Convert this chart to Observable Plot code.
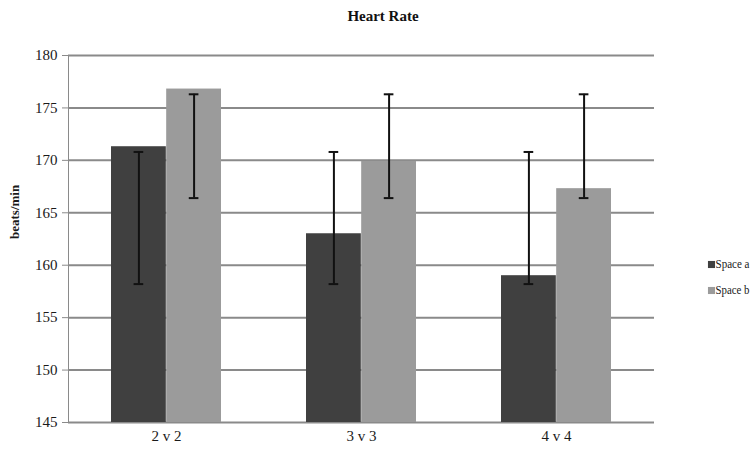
<!DOCTYPE html>
<html>
<head>
<meta charset="utf-8">
<script src="https://cdn.jsdelivr.net/npm/d3@7"></script>
<script src="https://cdn.jsdelivr.net/npm/@observablehq/plot@0.6"></script>
<style>
  body { margin: 0; background: #fff; }
  #wrap { position: relative; width: 753px; height: 454px; font-family: "Liberation Serif", "DejaVu Serif", serif; overflow: hidden; }
  #title { position: absolute; top: 8px; left: 0; width: 766px; text-align: center; font-weight: bold; font-size: 15px; color: #111; }
  #chart svg text { fill: #1a1a1a; font-family: "Liberation Serif", serif; }
</style>
</head>
<body>
<div id="wrap">
  <div id="title">Heart Rate</div>
  <div id="chart"></div>
</div>
<script>
const categories = ["2 v 2", "3 v 3", "4 v 4"];
const seriesNames = ["Space a", "Space b"];
const spaceA = [171.3, 163.0, 159.0];
const spaceB = [176.8, 169.9, 167.3];
const errA_low = [158.2, 158.2, 158.2];
const errA_high = [170.8, 170.8, 170.8];
const errB_low = [166.4, 166.4, 166.4];
const errB_high = [176.3, 176.3, 176.3];
const yTicks = [145, 150, 155, 160, 165, 170, 175, 180];
const colors = ["#404040", "#9b9b9b"];

const A = categories.map((c, i) => ({cat: c, value: spaceA[i], lo: errA_low[i], hi: errA_high[i]}));
const B = categories.map((c, i) => ({cat: c, value: spaceB[i], lo: errB_low[i], hi: errB_high[i]}));
const leg = seriesNames.map((n, i) => ({name: n, color: colors[i], row: i}));

const width = 753, height = 454, mL = 68, mR = 99;
const pIn = 0.435, pOut = 0.2175;
const step = (width - mL - mR) / (categories.length - pIn + 2 * pOut);
const bw = step * (1 - pIn);
const half = bw / 2, q = bw / 4, cap = 5;

const legendMarks = leg.flatMap(d => [
  Plot.dot([d], {frameAnchor: "right", dx: 57, dy: 25.5 + 26 * d.row, symbol: "square", r: 4, fill: d.color, stroke: "none"}),
  Plot.text([d], {frameAnchor: "right", dx: 61, dy: 25.5 + 26 * d.row, text: "name", textAnchor: "start", fontSize: 12, fill: "#111"})
]);

const chart = Plot.plot({
  width, height,
  marginLeft: mL, marginRight: mR, marginTop: 55, marginBottom: 32,
  style: {fontFamily: "Liberation Serif, serif", fontSize: "15px", color: "#8a8a8a", background: "#fff"},
  x: {domain: categories, paddingInner: pIn, paddingOuter: pOut, label: null, tickSize: 0, tickPadding: 8},
  y: {domain: [145, 180], ticks: yTicks, label: null, tickSize: 6, tickPadding: 5, line: true},
  marks: [
    Plot.ruleY(yTicks, {stroke: "#8a8a8a", strokeWidth: 2}),
    Plot.barY(A, {x: "cat", y1: () => 145, y2: "value", fill: colors[0], insetRight: half}),
    Plot.barY(B, {x: "cat", y1: () => 145, y2: "value", fill: colors[1], insetLeft: half}),
    Plot.ruleX(A, {x: "cat", y1: "lo", y2: "hi", dx: -q, stroke: "#111", strokeWidth: 2}),
    Plot.ruleX(B, {x: "cat", y1: "lo", y2: "hi", dx: q, stroke: "#111", strokeWidth: 2}),
    Plot.tickY(A, {x: "cat", y: "lo", insetLeft: half - q - cap, insetRight: half + q - cap, stroke: "#111", strokeWidth: 2}),
    Plot.tickY(A, {x: "cat", y: "hi", insetLeft: half - q - cap, insetRight: half + q - cap, stroke: "#111", strokeWidth: 2}),
    Plot.tickY(B, {x: "cat", y: "lo", insetLeft: half + q - cap, insetRight: half - q - cap, stroke: "#111", strokeWidth: 2}),
    Plot.tickY(B, {x: "cat", y: "hi", insetLeft: half + q - cap, insetRight: half - q - cap, stroke: "#111", strokeWidth: 2}),
    Plot.text(["beats/min"], {frameAnchor: "left", dx: -54, rotate: -90, fontWeight: "bold", fontSize: 13, fill: "#111"}),
    ...legendMarks
  ]
});
document.getElementById("chart").appendChild(chart);
d3.select(chart).selectAll("text")
  .filter(function() { return seriesNames.includes(this.textContent); })
  .attr("textLength", 34)
  .attr("lengthAdjust", "spacingAndGlyphs");
</script>
</body>
</html>
